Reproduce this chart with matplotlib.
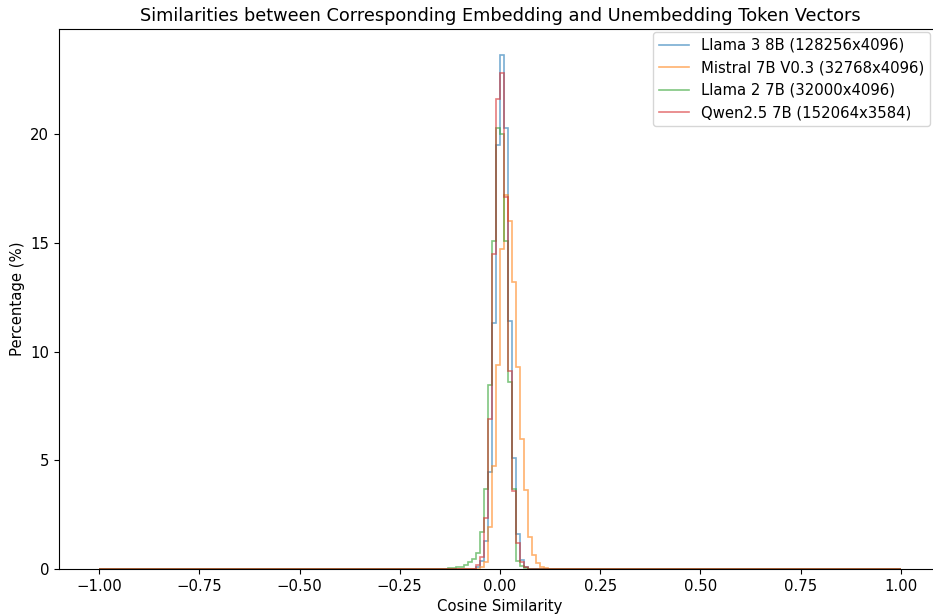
import numpy as np
import matplotlib
matplotlib.use("Agg")
import matplotlib.pyplot as plt
from matplotlib.lines import Line2D

# Histogram bins: 200 bins of width 0.01 over [-1, 1]
bin_edges = np.linspace(-1.0, 1.0, 201)

# Non-zero bins: left edge -> percentage
llama3_left = [-0.06, -0.05, -0.04, -0.03, -0.02, -0.01, 0.00, 0.01, 0.02, 0.03, 0.04, 0.05, 0.06]
llama3_vals = [0.08, 0.35, 1.3, 4.45, 11.3, 19.5, 23.66, 20.3, 11.4, 5.1, 1.6, 0.4, 0.1]

mistral_left = [-0.05, -0.04, -0.03, -0.02, -0.01, 0.00, 0.01, 0.02, 0.03, 0.04, 0.05, 0.06, 0.07, 0.08, 0.09, 0.10, 0.11]
mistral_vals = [0.07, 0.3, 1.95, 4.75, 9.4, 14.7, 17.2, 16.0, 13.2, 9.3, 6.0, 3.63, 1.49, 0.64, 0.26, 0.08, 0.03]

llama2_left = [-0.13, -0.12, -0.11, -0.10, -0.09, -0.08, -0.07, -0.06, -0.05, -0.04, -0.03, -0.02, -0.01, 0.00, 0.01, 0.02, 0.03, 0.04, 0.05, 0.06]
llama2_vals = [0.03, 0.05, 0.07, 0.1, 0.18, 0.3, 0.45, 0.75, 1.7, 3.7, 8.46, 15.1, 20.3, 20.0, 15.1, 8.6, 3.7, 0.37, 0.15, 0.05]

qwen_left = [-0.06, -0.05, -0.04, -0.03, -0.02, -0.01, 0.00, 0.01, 0.02, 0.03, 0.04, 0.05, 0.06]
qwen_vals = [0.18, 0.57, 2.33, 6.9, 14.5, 21.6, 22.8, 17.1, 9.1, 3.6, 1.18, 0.3, 0.08]

labels = ["Llama 3 8B (128256x4096)", "Mistral 7B V0.3 (32768x4096)",
          "Llama 2 7B (32000x4096)", "Qwen2.5 7B (152064x3584)"]
colors = ["tab:blue", "tab:orange", "tab:green", "tab:red"]

series = [(llama3_left, llama3_vals), (mistral_left, mistral_vals),
          (llama2_left, llama2_vals), (qwen_left, qwen_vals)]

fs = 10.7
fig = plt.figure(figsize=(9.33, 6.16), dpi=100)
ax = fig.add_axes([59 / 933, 47 / 616, 882 / 933, 540 / 616])

handles = []
for (lefts, vals), lab, col in zip(series, labels, colors):
    centers = np.array(lefts) + 0.005
    ax.hist(centers, bins=bin_edges, weights=vals, histtype="step",
            color=col, alpha=0.6, linewidth=1.2)
    handles.append(Line2D([], [], color=col, alpha=0.6, linewidth=1.2, label=lab))

ax.set_title("Similarities between Corresponding Embedding and Unembedding Token Vectors", fontsize=12.8)
ax.set_xlabel("Cosine Similarity", fontsize=fs)
ax.set_ylabel("Percentage (%)", fontsize=fs)
ax.set_xticks([-1.0, -0.75, -0.5, -0.25, 0.0, 0.25, 0.5, 0.75, 1.0])
ax.tick_params(labelsize=fs)
ax.legend(handles=handles, loc="upper right", fontsize=fs,
          bbox_to_anchor=(930 / 933, (616 - 32) / 616),
          bbox_transform=fig.transFigure, borderaxespad=0)

fig.savefig("out.png", dpi=100)
